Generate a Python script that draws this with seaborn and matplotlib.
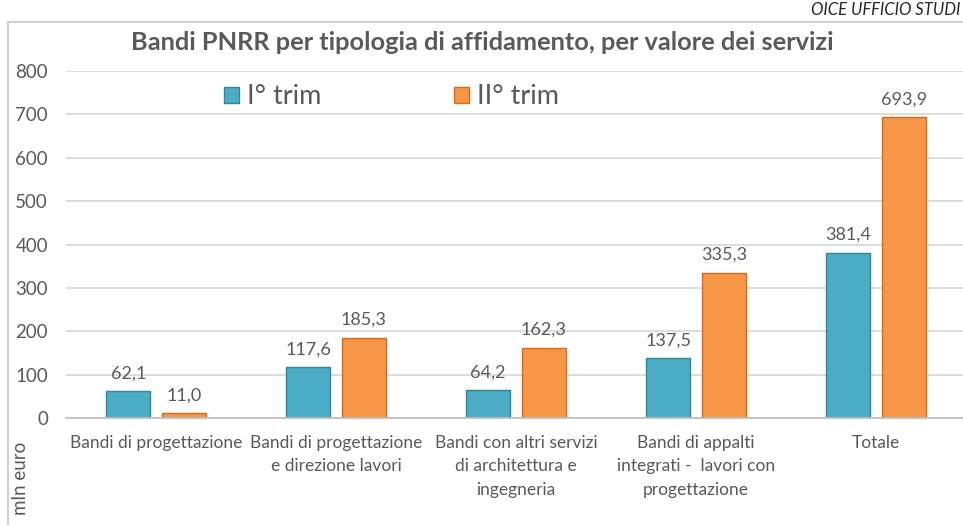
import matplotlib
matplotlib.use("Agg")
import matplotlib.pyplot as plt
from matplotlib.patches import Patch
from matplotlib.lines import Line2D
import seaborn as sns
import pandas as pd

categories = [
    "Bandi di progettazione",
    "Bandi di progettazione\ne direzione lavori",
    "Bandi con altri servizi\ndi architettura e\ningegneria",
    "Bandi di appalti\nintegrati -  lavori con\nprogettazione",
    "Totale",
]
series_names = ["I° trim", "II° trim"]
q1_values = [62.1, 117.6, 64.2, 137.5, 381.4]
q2_values = [11.0, 185.3, 162.3, 335.3, 693.9]
y_ticks = [0, 100, 200, 300, 400, 500, 600, 700, 800]
title = "Bandi PNRR per tipologia di affidamento, per valore dei servizi"
y_label = "mln euro"
source = "OICE UFFICIO STUDI"

colors = ["#4bacc6", "#f79646"]
edges = ["#31859c", "#d46a1a"]
gray = "#595959"

df = pd.DataFrame({
    "cat": categories * 2,
    "serie": [series_names[0]] * len(categories) + [series_names[1]] * len(categories),
    "val": q1_values + q2_values,
})

sns.set_theme(style="white")
plt.rcParams["font.family"] = ["Lato", "DejaVu Sans"]

fig = plt.figure(figsize=(9.63, 5.25), dpi=100)
fig.patch.set_facecolor("white")
ax = fig.add_axes([66 / 963, 107 / 525, 900 / 963, 347 / 525])

sns.barplot(data=df, x="cat", y="val", hue="serie", order=categories,
            hue_order=series_names, palette=colors, width=0.617, gap=0.21,
            ax=ax, legend=False, saturation=1)

for i, cont in enumerate(ax.containers):
    for bar in cont:
        bar.set_edgecolor(edges[i])
        bar.set_linewidth(1.0)
    labels = [f"{v:.1f}".replace(".", ",") for v in cont.datavalues]
    ax.bar_label(cont, labels=labels, padding=7, fontsize=13, color=gray)

ax.set_ylim(0, 800)
ax.set_xlim(-0.5, 4.5)
ax.set_yticks(y_ticks)
ax.yaxis.grid(True, color="#d9d9d9", linewidth=1.3)
ax.set_axisbelow(True)
for s in ["top", "right", "left"]:
    ax.spines[s].set_visible(False)
ax.spines["bottom"].set_color("#bfbfbf")
ax.spines["bottom"].set_linewidth(1.3)
ax.tick_params(axis="y", length=0, pad=13, labelsize=13.5, labelcolor=gray)
ax.tick_params(axis="x", length=0, pad=12, labelsize=12.5, labelcolor=gray)
for lab in ax.get_xticklabels():
    lab.set_linespacing(1.6)
ax.set_xlabel("")
ax.set_ylabel("")

handles = [Patch(facecolor=colors[i], edgecolor=edges[i]) for i in range(2)]
leg = fig.legend(handles, series_names, loc="center left",
                 bbox_to_anchor=(224 / 963, 1 - 97 / 525), ncol=2, frameon=False,
                 fontsize=19.5, handlelength=0.55, handleheight=0.52,
                 handletextpad=0.3, columnspacing=4.9, borderpad=0, borderaxespad=0)
for t in leg.get_texts():
    t.set_color(gray)

fig.text(482 / 963, 1 - 43 / 525, title, ha="center", va="center",
         fontsize=18.3, fontweight="bold", color=gray)
fig.text(960 / 963, 1 - 2 / 525, source, ha="right", va="top",
         fontsize=12, style="italic", color="#262626")
fig.text(21 / 963, 1 - 478 / 525, y_label, ha="center", va="center",
         rotation=90, fontsize=13.5, color=gray)

# outer chart border
fig.add_artist(Line2D([8 / 963, 8 / 963], [0, 1 - 22 / 525], color="#d0d0d0",
                      linewidth=1.5, transform=fig.transFigure))
fig.add_artist(Line2D([8 / 963, 1], [1 - 22 / 525, 1 - 22 / 525], color="#d0d0d0",
                      linewidth=1.5, transform=fig.transFigure))

fig.savefig("out.png", dpi=100, facecolor="white")
